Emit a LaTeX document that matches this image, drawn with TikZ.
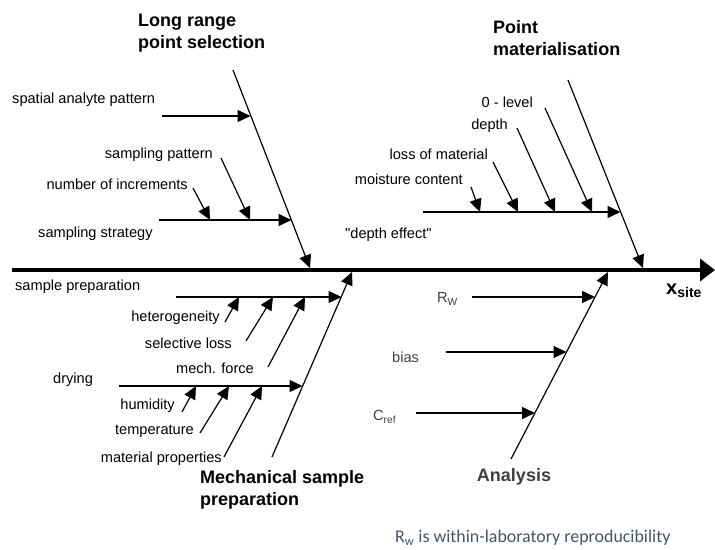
\documentclass[tikz,border=0pt]{standalone}
\usepackage{fontspec}
\setmainfont{Liberation Sans}
\newfontfamily\notefont{Carlito}
\usetikzlibrary{arrows.meta}
\definecolor{antext}{RGB}{64,64,64}
\definecolor{notecol}{RGB}{68,84,106}
\begin{document}
\begin{tikzpicture}[x=1pt,y=-1pt,
  lbl/.style={font=\fontsize{14.6}{17}\selectfont, inner sep=0pt},
  ttl/.style={font=\fontsize{18}{22}\selectfont\bfseries, inner sep=0pt, align=left},
  arr/.style={line width=1.2pt, -{Triangle[length=13pt,width=12pt]}},
  harr/.style={line width=1.4pt, -{Triangle[length=13pt,width=12pt]}},
  spine/.style={line width=4pt, -{Triangle[length=15pt,width=22pt]}}]
\useasboundingbox (0,0) rectangle (715,549);
% main spine
\coordinate (s0) at (12,270);
\coordinate (s1) at (715,270);
\draw[spine] (s0) -- (s1);
\node[font=\fontsize{20}{24}\selectfont\bfseries, inner sep=0pt, anchor=west] (xsite) at (666,291) {x\textsubscript{site}};

% Long range point selection
\node[ttl, anchor=west] (lrt) at (138,33) {Long range\\point selection};
\coordinate (lr0) at (233,70); \coordinate (lr1) at (310,268);
\draw[arr] (lr0) -- (lr1);
\node[lbl, anchor=west] (spat) at (12,100) {spatial analyte pattern};
\coordinate (spa0) at (162,116); \coordinate (spa1) at (250.5,116);
\draw[harr] (spa0) -- (spa1);
\node[lbl, anchor=west] (sstr) at (38,234) {sampling strategy};
\coordinate (ss0) at (159,220); \coordinate (ss1) at (291.5,220);
\draw[harr] (ss0) -- (ss1);
\node[lbl, anchor=east] (spat2) at (213,155) {sampling pattern};
\coordinate (sp0) at (221,158); \coordinate (sp1) at (250,220);
\draw[arr] (sp0) -- (sp1);
\node[lbl, anchor=east] (ninc) at (188,184) {number of increments};
\coordinate (ni0) at (193,188); \coordinate (ni1) at (210,220);
\draw[arr] (ni0) -- (ni1);

% Point materialisation
\node[ttl, anchor=west] (pmt) at (493,38) {Point\\materialisation};
\coordinate (pm0) at (568,80); \coordinate (pm1) at (643,268);
\draw[arr] (pm0) -- (pm1);
\node[lbl, anchor=west] (deff) at (345,235) {\textquotedbl depth effect\textquotedbl};
\coordinate (de0) at (423,212); \coordinate (de1) at (620.5,212);
\draw[harr] (de0) -- (de1);
\node[lbl, anchor=east] (zlev) at (533,102) {0 - level};
\coordinate (zl0) at (545,108); \coordinate (zl1) at (592,212);
\draw[arr] (zl0) -- (zl1);
\node[lbl, anchor=east] (dep) at (508,126) {depth};
\coordinate (dp0) at (517,128); \coordinate (dp1) at (555,212);
\draw[arr] (dp0) -- (dp1);
\node[lbl, anchor=east] (loss) at (488,154) {loss of material};
\coordinate (lo0) at (493,162); \coordinate (lo1) at (518,212);
\draw[arr] (lo0) -- (lo1);
\node[lbl, anchor=east] (mois) at (463,179) {moisture content};
\coordinate (mo0) at (471,187); \coordinate (mo1) at (480,212);
\draw[arr] (mo0) -- (mo1);

% Mechanical sample preparation
\node[ttl, anchor=west] (msp) at (200,490) {Mechanical sample\\preparation};
\coordinate (ms0) at (272,457); \coordinate (ms1) at (352,272);
\draw[arr] (ms0) -- (ms1);
\node[lbl, anchor=west] (sprep) at (15,287) {sample preparation};
\coordinate (sq0) at (176,297); \coordinate (sq1) at (341.5,297);
\draw[harr] (sq0) -- (sq1);
\node[lbl, anchor=east] (het) at (220,318) {heterogeneity};
\coordinate (he0) at (225,322); \coordinate (he1) at (239,297);
\draw[arr] (he0) -- (he1);
\node[lbl, anchor=east] (sel) at (232,343) {selective loss};
\coordinate (se0) at (246,341); \coordinate (se1) at (273,297);
\draw[arr] (se0) -- (se1);
\node[lbl, anchor=east] (mech) at (254,368) {mech. force};
\coordinate (me0) at (268,367); \coordinate (me1) at (305,297);
\draw[arr] (me0) -- (me1);
\node[lbl, anchor=west] (dry) at (53,380) {drying};
\coordinate (dr0) at (119,386); \coordinate (dr1) at (302.5,386);
\draw[harr] (dr0) -- (dr1);
\node[lbl, anchor=east] (hum) at (175,406) {humidity};
\coordinate (hu0) at (182,412); \coordinate (hu1) at (196,386);
\draw[arr] (hu0) -- (hu1);
\node[lbl, anchor=east] (temp) at (194,431) {temperature};
\coordinate (te0) at (200,433); \coordinate (te1) at (229,386);
\draw[arr] (te0) -- (te1);
\node[lbl, anchor=east] (matp) at (222,459) {material properties};
\coordinate (ma0) at (224,457); \coordinate (ma1) at (262,386);
\draw[arr] (ma0) -- (ma1);

% Analysis
\node[ttl, text=antext, anchor=center] (ana) at (514,477) {Analysis};
\coordinate (an0) at (511,459); \coordinate (an1) at (608,272);
\draw[arr] (an0) -- (an1);
\node[lbl, text=antext, anchor=west] (rw) at (437,299) {R\textsubscript{W}};
\coordinate (rw0) at (472,297); \coordinate (rw1) at (595,297);
\draw[harr] (rw0) -- (rw1);
\node[lbl, text=antext, anchor=west] (bias) at (392,357) {bias};
\coordinate (bi0) at (446,352); \coordinate (bi1) at (566.5,352);
\draw[harr] (bi0) -- (bi1);
\node[lbl, text=antext, anchor=west] (cref) at (373,417) {C\textsubscript{ref}};
\coordinate (cr0) at (416,413); \coordinate (cr1) at (535,413);
\draw[harr] (cr0) -- (cr1);

% footnote
\node[font=\notefont\fontsize{17.9}{20}\selectfont, text=notecol, inner sep=0pt, anchor=west] (note) at (395,538) {R\textsubscript{w} is within-laboratory reproducibility};
\end{tikzpicture}
\end{document}
